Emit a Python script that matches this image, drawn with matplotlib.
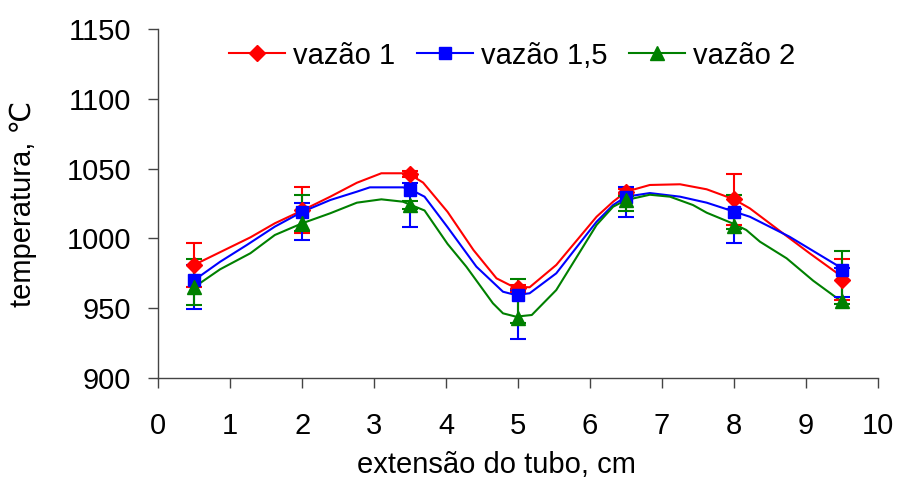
import matplotlib
matplotlib.use("Agg")
import matplotlib.pyplot as plt
import numpy as np

plt.rcParams["font.family"] = ["Liberation Sans", "DejaVu Sans"]

# measured points (markers + error bars)
pos = [0.5, 2, 3.5, 5, 6.5, 8, 9.5]
red_pts = [981, 1020, 1046, 964.5, 1033.5, 1028, 970]
blue_pts = [970, 1019, 1035, 959, 1030, 1019, 977]
green_pts = [965, 1011, 1024, 942.5, 1027.5, 1009, 955]

red_lo = [16, 16, 2, 3, 2, 18.5, 14]
red_hi = [16, 17, 2, 2, 2, 18.5, 15]
blue_lo = [20.5, 20.5, 27, 31, 14.5, 22, 19]
blue_hi = [11, 6.5, 4.5, 4, 7, 2, 2]
green_lo = [13, 5.5, 3, 3, 8, 2, 2]
green_hi = [20, 20, 3, 28.5, 3, 22, 36]

# curves
red_x = [0.5, 1.28, 1.62, 2.0, 2.39, 2.76, 3.10, 3.47, 3.68, 4.02, 4.38, 4.70, 4.93,
         5.16, 5.53, 6.09, 6.32, 6.5, 6.83, 7.25, 7.62, 8.0, 8.22, 8.68, 9.05, 9.5]
red_y = [981, 1000.7, 1010.8, 1020, 1029.9, 1039.9, 1046.7, 1046.7, 1040, 1019, 991.6,
         971.3, 965.3, 964.9, 980.9, 1015.5, 1026.3, 1033.5, 1038.3, 1038.8, 1035.2,
         1028, 1021.5, 1003.6, 989.3, 972.5]
blue_x = [0.5, 0.86, 1.23, 1.62, 2.0, 2.39, 2.76, 2.94, 3.40, 3.5, 3.70, 4.02, 4.42,
          4.79, 4.97, 5.16, 5.53, 6.09, 6.32, 6.5, 6.83, 7.25, 7.62, 8.0, 8.22, 8.77, 9.5]
blue_y = [970, 983.2, 995.2, 1008.4, 1019, 1027.5, 1033.5, 1036.6, 1036.6, 1035.2,
          1029.9, 1008, 979.7, 961.7, 959.3, 960.6, 974.9, 1011.9, 1023.9, 1029.9,
          1032.5, 1029.9, 1025.6, 1019.2, 1015.5, 1001.2, 978.5]
green_x = [0.5, 0.86, 1.28, 1.62, 2.0, 2.39, 2.76, 3.10, 3.40, 3.70, 4.02, 4.28, 4.65,
           4.79, 4.97, 5.19, 5.53, 6.09, 6.32, 6.5, 6.83, 7.11, 7.43, 7.62, 8.0, 8.17,
           8.36, 8.73, 9.10, 9.5]
green_y = [965, 977.8, 989.3, 1002.4, 1010.8, 1018, 1025.6, 1028, 1026.3, 1020, 996,
           979.7, 953.4, 946.2, 943.8, 945, 962.9, 1009.6, 1022.7, 1027.5, 1031.3,
           1029.9, 1023.9, 1018.4, 1010.3, 1006, 997.6, 985.7, 969.6, 954.5]

labels = ["vazão 1", "vazão 1,5", "vazão 2"]

fig = plt.figure(figsize=(8.97, 4.83), dpi=100)
ax = fig.add_axes([0.1764, 0.218, 0.8024, 0.7213])

series = [
    (red_x, red_y, red_pts, red_lo, red_hi, "#ff0000", "D", 8),
    (blue_x, blue_y, blue_pts, blue_lo, blue_hi, "#0000ff", "s", 8.5),
    (green_x, green_y, green_pts, green_lo, green_hi, "#008000", "^", 9.5),
]

handles = []
for (lx, ly, py, lo, hi, c, m, ms), lab in zip(series, labels):
    ax.plot(lx, ly, color=c, lw=1.5, zorder=2)
    ax.errorbar(pos, py, yerr=[lo, hi], fmt="none", ecolor=c, elinewidth=1.5,
                capsize=5.5, capthick=1.5, zorder=3)
    ax.plot(pos, py, linestyle="none", marker=m, color=c, ms=ms, zorder=4)
    h, = ax.plot([], [], color=c, lw=1.5, marker=m, ms=ms, label=lab)
    handles.append(h)

ax.set_xlim(0, 10)
ax.set_ylim(900, 1150)
ax.set_xticks(np.arange(0, 11, 1))
ax.set_yticks(np.arange(900, 1151, 50))
ax.spines["top"].set_visible(False)
ax.spines["right"].set_visible(False)
for s in ("left", "bottom"):
    ax.spines[s].set_color("#444444")
    ax.spines[s].set_linewidth(1)
ax.tick_params(axis="both", direction="out", length=7.5, width=1, color="#444444")
ax.tick_params(axis="y", labelsize=21, pad=12)
ax.tick_params(axis="x", labelsize=21, pad=17)

ax.set_xlabel("extensão do tubo, cm", fontsize=21)
ax.xaxis.set_label_coords(0.47, -0.21)
ax.set_ylabel("temperatura, ℃", fontsize=21)
ax.yaxis.set_label_coords(-0.169, 0.5)

fig.legend(handles=handles, loc="center left", bbox_to_anchor=(0.2556, 0.885),
           ncol=3, frameon=False, fontsize=21, handlelength=1.92,
           handletextpad=0.27, columnspacing=0.75, borderpad=0, borderaxespad=0)

fig.savefig("out.png", dpi=100)
